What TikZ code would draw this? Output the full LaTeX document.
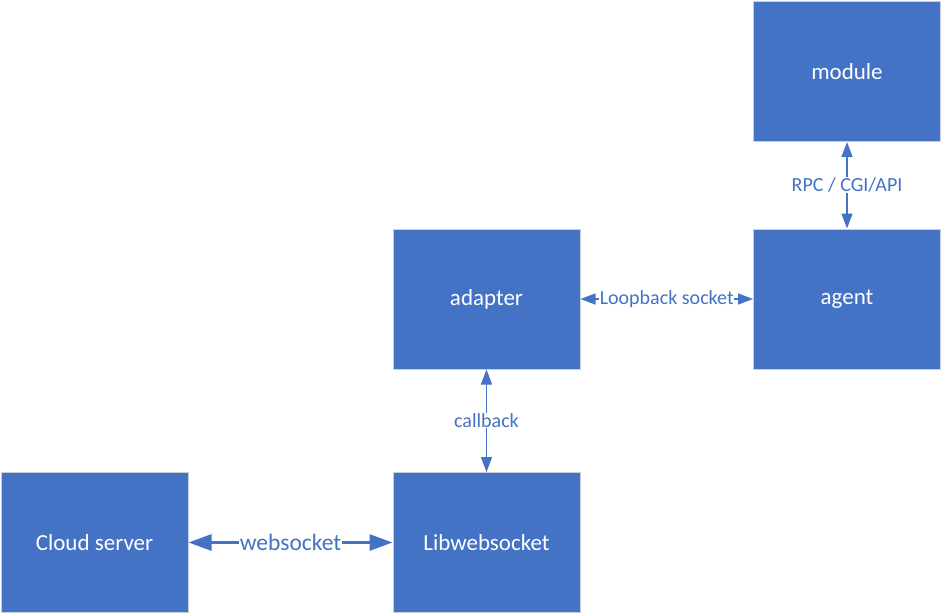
\documentclass[tikz,border=0pt]{standalone}
\usepackage{fontspec}
\setmainfont{Carlito}
\usetikzlibrary{arrows.meta}
\definecolor{boxblue}{HTML}{4472C4}
\definecolor{boxedge}{HTML}{C9CFD8}
\begin{document}
\begin{tikzpicture}[x=1pt,y=-1pt,
  blk/.style={draw=boxedge,line width=1pt,fill=boxblue,text=white,minimum width=187pt,minimum height=140pt,inner sep=0pt,font=\fontsize{23}{27}\selectfont},
  conn/.style={draw=boxblue,line width=1.5pt,{Triangle[length=15pt,width=11pt]}-{Triangle[length=15pt,width=11pt]}},
  thick conn/.style={draw=boxblue,line width=3pt,{Triangle[length=23pt,width=16pt]}-{Triangle[length=23pt,width=16pt]}},
  lbl/.style={fill=white,text=boxblue,inner sep=0.5pt,font=\fontsize{20}{24}\selectfont}]
\useasboundingbox (0,0) rectangle (942,615);
\node[blk] (module) at (847,71.5) {module};
\node[blk] (agent) at (847,299) {agent};
\node[blk] (adapter) at (486.5,299) {adapter};
\node[blk] (lib) at (486.5,542.5) {Libwebsocket};
\node[blk] (cloud) at (94.5,542.5) {Cloud server};
\draw[conn] (module.south) -- node[lbl] {RPC / CGI/API} (agent.north);
\draw[conn] (adapter.east) -- node[lbl] {Loopback socket} (agent.west);
\draw[conn] (adapter.south) -- node[lbl] {callback} (lib.north);
\draw[thick conn] (cloud.east) -- node[lbl,font=\fontsize{23.5}{28}\selectfont] {websocket} (lib.west);
\end{tikzpicture}
\end{document}
